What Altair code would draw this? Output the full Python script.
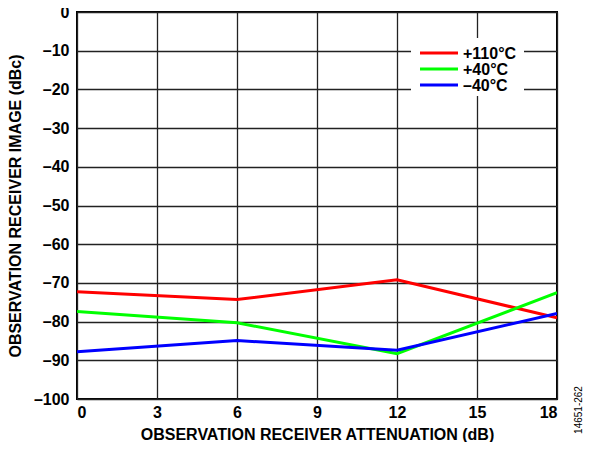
import altair as alt
import pandas as pd

attenuation = [0, 6, 12, 18]
series_names = ["+110°C", "+40°C", "–40°C"]
series_colors = ["#FF0000", "#00FF00", "#0000FF"]
red_110 = [-72.3, -74.3, -69.2, -79.0]
green_40 = [-77.4, -80.3, -88.3, -72.5]
blue_m40 = [-87.8, -84.9, -87.4, -77.9]
x_ticks = [0, 3, 6, 9, 12, 15, 18]
y_ticks = [0, -10, -20, -30, -40, -50, -60, -70, -80, -90, -100]

rows = []
for name, vals in zip(series_names, [red_110, green_40, blue_m40]):
    for x, v in zip(attenuation, vals):
        rows.append({"x": x, "y": v, "series": name})
df = pd.DataFrame(rows)

FONT = "Liberation Sans"
color_scale = alt.Scale(domain=series_names, range=series_colors)

lines = alt.Chart(df).mark_line(strokeWidth=3, clip=True).encode(
    x=alt.X("x:Q", scale=alt.Scale(domain=[0, 18], nice=False),
            axis=alt.Axis(values=x_ticks, title="OBSERVATION RECEIVER ATTENUATION (dB)",
                          format="d")),
    y=alt.Y("y:Q", scale=alt.Scale(domain=[-100, 0], nice=False),
            axis=alt.Axis(values=y_ticks, title="OBSERVATION RECEIVER IMAGE (dBc)",
                          labelExpr="replace(format(datum.value, 'd'), /[-\u2212]/, '\u2013')")),
    color=alt.Color("series:N", scale=color_scale, legend=None),
    detail="series:N",
)

# legend background box
legend_bg = alt.Chart(pd.DataFrame({"a": [0]})).mark_rect(fill="white").encode(
    x=alt.value(334), x2=alt.value(447), y=alt.value(26), y2=alt.value(84)
)

legend_layers = [legend_bg]
for i, (name, col) in enumerate(zip(series_names, series_colors)):
    d = pd.DataFrame({"series": [name]})
    yy = 41 + i * 16
    legend_layers.append(
        alt.Chart(d).mark_rule(strokeWidth=3, color=col).encode(
            x=alt.value(343), x2=alt.value(381), y=alt.value(yy)
        )
    )
    legend_layers.append(
        alt.Chart(d).mark_text(align="left", baseline="middle", font=FONT,
                               fontWeight="bold", fontSize=16, color="black").encode(
            x=alt.value(386), y=alt.value(yy + 1), text="series:N"
        )
    )

note = alt.Chart(pd.DataFrame({"t": ["14651-262"]})).mark_text(
    angle=270, font=FONT, fontSize=10, color="black", align="center", baseline="middle"
).encode(x=alt.value(502), y=alt.value(398), text="t:N")

chart = alt.layer(lines, *legend_layers, note).properties(
    width=480, height=387,
    autosize=alt.AutoSizeParams(type="none"),
    padding={"left": 69, "top": 4, "right": 28, "bottom": 43},
).configure_view(
    stroke="black", strokeWidth=2
).configure_axis(
    grid=True, gridColor="#222222", gridWidth=1.3, gridOpacity=1,
    domain=False, ticks=False,
    labelFont=FONT, labelFontWeight="bold", labelFontSize=16, labelColor="black",
    titleFont=FONT, titleFontWeight="bold", titleFontSize=16, titleColor="black",
).configure_axisY(
    labelPadding=8, titlePadding=10,
).configure_axisX(
    labelPadding=5, titlePadding=6,
)

chart.save("out.html", embed_options={"renderer": "svg", "actions": False})
